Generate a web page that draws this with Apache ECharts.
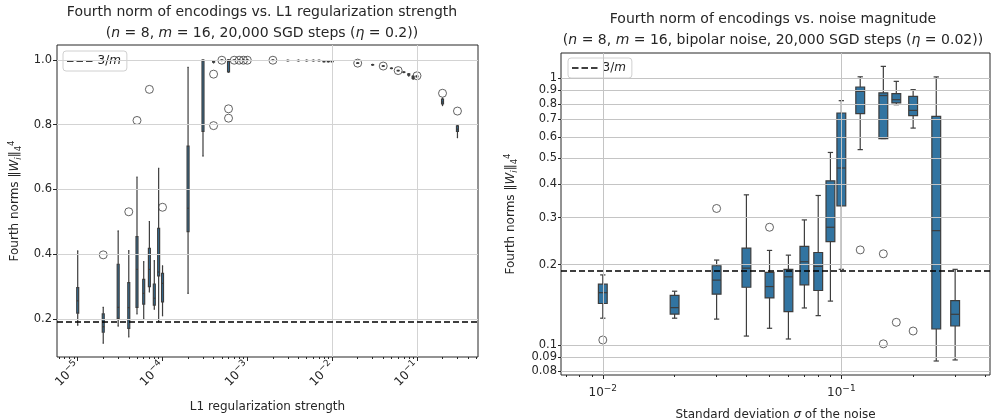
<!DOCTYPE html>
<html>
<head>
<meta charset="utf-8">
<script src="https://cdn.jsdelivr.net/npm/echarts@6/dist/echarts.min.js"></script>
<style>
html,body{margin:0;padding:0;background:#fff;}
#chart{width:994px;height:420px;}
</style>
</head>
<body>
<div id="chart"></div>
<script>
// ---------------- DATA ----------------
// Left panel: L1 regularization strength -> [whiskerLow, Q1, median, Q3, whiskerHigh]
const l1Strength = [1e-5, 2e-5, 3e-5, 4e-5, 5e-5, 6e-5, 7e-5, 8e-5, 9e-5, 1e-4,
  2e-4, 3e-4, 4e-4, 5e-4, 6e-4, 7e-4, 8e-4, 9e-4, 1e-3,
  2e-3, 3e-3, 4e-3, 5e-3, 6e-3, 7e-3, 8e-3, 9e-3, 1e-2,
  2e-2, 3e-2, 4e-2, 5e-2, 6e-2, 7e-2, 8e-2, 9e-2, 1e-1, 2e-1, 3e-1];
const l1Stats = [
  [0.181, 0.218, 0.256, 0.297, 0.410],
  [0.125, 0.159, 0.176, 0.216, 0.236],
  [0.178, 0.202, 0.236, 0.369, 0.472],
  [0.145, 0.171, 0.235, 0.312, 0.411],
  [0.216, 0.236, 0.353, 0.454, 0.638],
  [0.199, 0.246, 0.279, 0.322, 0.377],
  [0.284, 0.300, 0.353, 0.418, 0.501],
  [0.230, 0.243, 0.264, 0.308, 0.380],
  [0.192, 0.333, 0.345, 0.480, 0.665],
  [0.210, 0.253, 0.310, 0.341, 0.364],
  [0.279, 0.470, 0.542, 0.734, 0.977],
  [0.703, 0.779, 0.997, 0.999, 1.000],
  [0.991, 0.993, 0.995, 0.997, 0.998],
  [0.998, 0.9985, 0.999, 0.9995, 1.000],
  [0.962, 0.963, 0.995, 1.000, 1.000],
  [0.998, 0.9985, 0.999, 0.9995, 1.000],
  [0.998, 0.9985, 0.999, 0.9995, 1.000],
  [0.998, 0.9985, 0.999, 0.9995, 1.000],
  [0.998, 0.9985, 0.999, 0.9995, 1.000],
  [0.998, 0.9985, 0.999, 0.9995, 1.000],
  [0.997, 0.9975, 0.998, 0.9985, 0.999],
  [0.997, 0.9975, 0.998, 0.9985, 0.999],
  [0.997, 0.9975, 0.998, 0.9985, 0.999],
  [0.997, 0.9975, 0.998, 0.9985, 0.999],
  [0.997, 0.9975, 0.998, 0.9985, 0.999],
  [0.994, 0.9945, 0.995, 0.9955, 0.996],
  [0.994, 0.9945, 0.995, 0.9955, 0.996],
  [0.994, 0.9945, 0.995, 0.9955, 0.996],
  [0.989, 0.9895, 0.990, 0.9905, 0.991],
  [0.984, 0.9845, 0.985, 0.9855, 0.986],
  [0.980, 0.9805, 0.981, 0.9815, 0.982],
  [0.973, 0.9735, 0.974, 0.9745, 0.975],
  [0.966, 0.9665, 0.967, 0.9675, 0.968],
  [0.961, 0.9615, 0.962, 0.9625, 0.963],
  [0.950, 0.953, 0.955, 0.957, 0.958],
  [0.940, 0.943, 0.946, 0.949, 0.951],
  [0.947, 0.948, 0.949, 0.950, 0.951],
  [0.859, 0.864, 0.870, 0.879, 0.882],
  [0.760, 0.779, 0.786, 0.796, 0.798]
];
const l1Outliers = [
  [2e-5, 0.398], [4e-5, 0.531], [5e-5, 0.813], [7e-5, 0.909], [1e-4, 0.545],
  [4e-4, 0.956], [4e-4, 0.797], [5e-4, 0.999], [6e-4, 0.849], [6e-4, 0.820],
  [7e-4, 0.999], [8e-4, 0.999], [9e-4, 0.999], [1e-3, 0.999], [2e-3, 0.999],
  [2e-2, 0.990], [4e-2, 0.981], [6e-2, 0.967], [1e-1, 0.951],
  [2e-1, 0.897], [3e-1, 0.842]
];

// Right panel: noise standard deviation -> [whiskerLow, Q1, median, Q3, whiskerHigh]
const noiseStd = [0.01, 0.02, 0.03, 0.04, 0.05, 0.06, 0.07, 0.08, 0.09, 0.1,
  0.12, 0.15, 0.17, 0.2, 0.25, 0.3];
const noiseStats = [
  [0.126, 0.143, 0.157, 0.169, 0.183],
  [0.126, 0.1306, 0.138, 0.1535, 0.159],
  [0.125, 0.155, 0.175, 0.198, 0.208],
  [0.108, 0.1645, 0.194, 0.2305, 0.365],
  [0.1155, 0.150, 0.1655, 0.187, 0.226],
  [0.1053, 0.1333, 0.180, 0.192, 0.217],
  [0.1376, 0.168, 0.205, 0.234, 0.294],
  [0.1288, 0.160, 0.197, 0.222, 0.363],
  [0.146, 0.2439, 0.276, 0.412, 0.526],
  [0.192, 0.332, 0.460, 0.739, 0.822],
  [0.539, 0.735, 0.891, 0.925, 1.010],
  [0.593, 0.593, 0.859, 0.879, 1.105],
  [0.794, 0.806, 0.829, 0.873, 0.971],
  [0.649, 0.722, 0.756, 0.853, 0.904],
  [0.0871, 0.1148, 0.268, 0.718, 1.009],
  [0.0879, 0.1178, 0.1303, 0.1466, 0.192]
];
const noiseOutliers = [
  [0.01, 0.1044], [0.03, 0.3245], [0.05, 0.276], [0.12, 0.227],
  [0.15, 0.2195], [0.15, 0.101], [0.17, 0.1216], [0.2, 0.1128]
];

const m = 16;
const threeOverM = 3 / m;

// Tick labels
const l1MajorTicks = [1e-5, 1e-4, 1e-3, 1e-2, 1e-1];
const l1MinorTicks = [6e-6, 7e-6, 8e-6, 9e-6,
  2e-5, 3e-5, 4e-5, 5e-5, 6e-5, 7e-5, 8e-5, 9e-5,
  2e-4, 3e-4, 4e-4, 5e-4, 6e-4, 7e-4, 8e-4, 9e-4,
  2e-3, 3e-3, 4e-3, 5e-3, 6e-3, 7e-3, 8e-3, 9e-3,
  2e-2, 3e-2, 4e-2, 5e-2, 6e-2, 7e-2, 8e-2, 9e-2,
  2e-1, 3e-1, 4e-1, 5e-1];
const l1YTicks = [0.2, 0.4, 0.6, 0.8, 1.0];
const noiseMajorTicks = [0.01, 0.1];
const noiseMinorTicks = [7e-3, 8e-3, 9e-3, 0.02, 0.03, 0.04, 0.05, 0.06, 0.07, 0.08, 0.09, 0.2, 0.3, 0.4];
const noiseYTicks = [0.08, 0.09, 0.1, 0.2, 0.3, 0.4, 0.5, 0.6, 0.7, 0.8, 0.9, 1];

// ---------------- STYLE ----------------
const FONT = 'DejaVu Sans';
const TXT = '#262626';
const BOX = '#3274a1';
const LINE = '#3d3d3d';
const GRID_L = '#d3d3d3';
const GRID_R = '#c4c4c4';

function powLabel(v) {
  const e = Math.round(Math.log10(v));
  return '{b|10}{s|' + (e < 0 ? '−' + (-e) : e) + '}';
}
const powRich = {
  b: {fontFamily: FONT, fontSize: 12, color: TXT, lineHeight: 17},
  s: {fontFamily: FONT, fontSize: 9, color: TXT, lineHeight: 10, verticalAlign: 'top'}
};

function boxRender(halfLog) {
  const f = Math.pow(10, halfLog);
  return function (params, api) {
    const x = api.value(0);
    const lo = api.value(1), q1 = api.value(2), med = api.value(3), q3 = api.value(4), hi = api.value(5);
    const xl = api.coord([x / f, med])[0];
    const xr = api.coord([x * f, med])[0];
    const xc = api.coord([x, med])[0];
    const yLo = api.coord([x, lo])[1];
    const yQ1 = api.coord([x, q1])[1];
    const yMed = api.coord([x, med])[1];
    const yQ3 = api.coord([x, q3])[1];
    const yHi = api.coord([x, hi])[1];
    const cap = (xr - xl) * 0.3;
    const st = {stroke: LINE, lineWidth: 1.2, fill: null};
    return {
      type: 'group',
      children: [
        {type: 'line', shape: {x1: xc, y1: yLo, x2: xc, y2: yQ1}, style: st},
        {type: 'line', shape: {x1: xc, y1: yQ3, x2: xc, y2: yHi}, style: st},
        {type: 'line', shape: {x1: xc - cap, y1: yLo, x2: xc + cap, y2: yLo}, style: st},
        {type: 'line', shape: {x1: xc - cap, y1: yHi, x2: xc + cap, y2: yHi}, style: st},
        {type: 'rect', shape: {x: xl, y: yQ3, width: xr - xl, height: yQ1 - yQ3},
          style: {fill: BOX, stroke: LINE, lineWidth: 1.2}},
        {type: 'line', shape: {x1: xl, y1: yMed, x2: xr, y2: yMed}, style: st}
      ]
    };
  };
}

function gridLines(xIdx, yIdx, xs, ys, color) {
  return {
    type: 'line', xAxisIndex: xIdx, yAxisIndex: yIdx, data: [], silent: true, z: 0,
    markLine: {
      silent: true, symbol: 'none', animation: false,
      label: {show: false},
      lineStyle: {color: color, width: 1, type: 'solid'},
      data: xs.map(v => ({xAxis: v})).concat(ys.map(v => ({yAxis: v})))
    }
  };
}

const baseAxis = {
  position: 'bottom',
  axisLine: {show: false},
  splitLine: {show: false}
};

const nameRich = {
  r: {fontFamily: FONT, fontSize: 12, color: TXT, lineHeight: 16},
  i: {fontFamily: FONT, fontSize: 12, color: TXT, fontStyle: 'italic', lineHeight: 16},
  sb: {fontFamily: FONT, fontSize: 8.5, color: TXT, fontStyle: 'italic', lineHeight: 9, verticalAlign: 'bottom'},
  sbn: {fontFamily: FONT, fontSize: 8.5, color: TXT, lineHeight: 9, verticalAlign: 'bottom'},
  sp: {fontFamily: FONT, fontSize: 8.5, color: TXT, lineHeight: 9, verticalAlign: 'top'}
};
const yName = '{r|Fourth norms ‖}{i|W}{sb|i}{r|‖}{sbn|4}{sp|4}';

const titleRich = {
  r: {fontFamily: FONT, fontSize: 14, color: TXT, lineHeight: 21.5},
  i: {fontFamily: FONT, fontSize: 14, color: TXT, fontStyle: 'italic', lineHeight: 21.5}
};

const dashIcon = 'path://M0,0h6.5v1.7h-6.5zM9.5,0h6.5v1.7h-6.5zM19,0h6.5v1.7h-6.5z';

function legendFor(left, top) {
  return {
    data: [{name: '3/m', icon: dashIcon}], left: left, top: top, orient: 'vertical',
    itemWidth: 25.5, itemHeight: 1.7, itemGap: 4,
    padding: [4, 6, 4, 4],
    itemStyle: {color: '#000'},
    backgroundColor: 'rgba(255,255,255,0.85)', borderColor: '#d0d0d0', borderWidth: 1, borderRadius: 3,
    formatter: () => '{r|3/}{i|m}',
    textStyle: {rich: nameRich}
  };
}

const option = {
  animation: false,
  backgroundColor: '#fff',
  title: [
    {
      text: '{r|Fourth norm of encodings vs. L1 regularization strength}\n{r|(}{i|n}{r| = 8, }{i|m}{r| = 16, 20,000 SGD steps (}{i|η}{r| = 0.2))}',
      left: 262, top: 1.5, textAlign: 'center', padding: 0,
      textStyle: {rich: titleRich, fontFamily: FONT, fontSize: 14, fontWeight: 'normal'}
    },
    {
      text: '{r|Fourth norm of encodings vs. noise magnitude}\n{r|(}{i|n}{r| = 8, }{i|m}{r| = 16, bipolar noise, 20,000 SGD steps (}{i|η}{r| = 0.02))}',
      left: 773, top: 8.5, textAlign: 'center', padding: 0,
      textStyle: {rich: titleRich, fontFamily: FONT, fontSize: 14, fontWeight: 'normal'}
    }
  ],
  legend: [legendFor(63, 51), legendFor(568, 58)],
  grid: [
    {left: 57, top: 45, width: 421, height: 312, show: true, borderColor: TXT, borderWidth: 1,
      backgroundColor: 'transparent', containLabel: false, outerBoundsMode: 'none'},
    {left: 561, top: 53, width: 429, height: 322, show: true, borderColor: TXT, borderWidth: 1,
      backgroundColor: 'transparent', containLabel: false, outerBoundsMode: 'none'}
  ],
  xAxis: [
    Object.assign({}, baseAxis, {
      type: 'log', logBase: 10, gridIndex: 0, min: 5.7e-6, max: 0.524,
      name: 'L1 regularization strength', nameLocation: 'middle', nameGap: 44,
      nameTextStyle: {fontFamily: FONT, fontSize: 12, color: TXT},
      axisTick: {length: 4, lineStyle: {color: TXT}, customValues: l1MajorTicks},
      axisLabel: {rotate: 45, margin: 7, rich: powRich,
        customValues: l1MajorTicks, formatter: v => powLabel(v)}
    }),
    Object.assign({}, baseAxis, {
      type: 'log', logBase: 10, gridIndex: 0, min: 5.7e-6, max: 0.524,
      axisTick: {length: 2, lineStyle: {color: TXT}, customValues: l1MinorTicks},
      axisLabel: {show: false}
    }),
    Object.assign({}, baseAxis, {
      type: 'log', logBase: 10, gridIndex: 1, min: 6.68e-3, max: 0.42,
      name: '{r|Standard deviation }{i|σ}{r| of the noise}', nameLocation: 'middle', nameGap: 32,
      nameTextStyle: {rich: nameRich},
      axisTick: {length: 4, lineStyle: {color: TXT}, customValues: noiseMajorTicks},
      axisLabel: {margin: 9, rich: powRich,
        customValues: noiseMajorTicks, formatter: v => powLabel(v)}
    }),
    Object.assign({}, baseAxis, {
      type: 'log', logBase: 10, gridIndex: 1, min: 6.68e-3, max: 0.42,
      axisTick: {length: 2, lineStyle: {color: TXT}, customValues: noiseMinorTicks},
      axisLabel: {show: false}
    })
  ],
  yAxis: [
    {
      type: 'value', gridIndex: 0, min: 0.0826, max: 1.046, position: 'left',
      axisLine: {show: false}, splitLine: {show: false},
      name: yName, nameLocation: 'middle', nameGap: 34,
      nameTextStyle: {rich: nameRich},
      axisTick: {length: 4, lineStyle: {color: TXT}, customValues: l1YTicks},
      axisLabel: {color: TXT, fontFamily: FONT, fontSize: 11.5, margin: 5,
        customValues: l1YTicks, formatter: v => v.toFixed(1)}
    },
    {
      type: 'log', logBase: 10, gridIndex: 1, min: 0.0772, max: 1.24, position: 'left',
      axisLine: {show: false}, splitLine: {show: false},
      name: yName, nameLocation: 'middle', nameGap: 42,
      nameTextStyle: {rich: nameRich},
      axisTick: {length: 3, lineStyle: {color: TXT}, customValues: noiseYTicks},
      axisLabel: {color: TXT, fontFamily: FONT, fontSize: 11.5, margin: 4,
        customValues: noiseYTicks, formatter: v => String(Number(v.toFixed(2)))}
    }
  ],
  series: [
    gridLines(0, 0, l1MajorTicks, l1YTicks, GRID_L),
    gridLines(2, 1, noiseMajorTicks, noiseYTicks, GRID_R),
    {
      type: 'custom', name: 'box-l1', xAxisIndex: 0, yAxisIndex: 0, z: 3,
      renderItem: boxRender(0.0115),
      encode: {x: 0, y: [1, 2, 3, 4, 5]},
      data: l1Strength.map((p, i) => [p].concat(l1Stats[i]))
    },
    {
      type: 'custom', name: 'box-noise', xAxisIndex: 2, yAxisIndex: 1, z: 3,
      renderItem: boxRender(0.0185),
      encode: {x: 0, y: [1, 2, 3, 4, 5]},
      data: noiseStd.map((p, i) => [p].concat(noiseStats[i]))
    },
    {
      type: 'scatter', name: 'out-l1', xAxisIndex: 0, yAxisIndex: 0, z: 4,
      symbol: 'circle', symbolSize: 8,
      itemStyle: {color: 'rgba(0,0,0,0)', borderColor: LINE, borderWidth: 1},
      data: l1Outliers
    },
    {
      type: 'scatter', name: 'out-noise', xAxisIndex: 2, yAxisIndex: 1, z: 4,
      symbol: 'circle', symbolSize: 8,
      itemStyle: {color: 'rgba(0,0,0,0)', borderColor: LINE, borderWidth: 1},
      data: noiseOutliers
    },
    {
      type: 'line', name: '3/m', xAxisIndex: 0, yAxisIndex: 0, data: [], z: 5,
      symbol: 'none', color: '#000',
      lineStyle: {color: '#000', width: 1.6, type: [6, 3]},
      markLine: {silent: true, symbol: 'none', label: {show: false},
        lineStyle: {color: '#000', width: 1.6, type: [6, 3]},
        data: [{yAxis: threeOverM}]}
    },
    {
      type: 'line', name: '3/m', xAxisIndex: 2, yAxisIndex: 1, data: [], z: 5,
      symbol: 'none', color: '#000',
      lineStyle: {color: '#000', width: 1.6, type: [6, 3]},
      markLine: {silent: true, symbol: 'none', label: {show: false},
        lineStyle: {color: '#000', width: 1.6, type: [6, 3]},
        data: [{yAxis: threeOverM}]}
    }
  ]
};

const chart = echarts.init(document.getElementById('chart'), null, {renderer: 'canvas'});
chart.setOption(option);
</script>
</body>
</html>
